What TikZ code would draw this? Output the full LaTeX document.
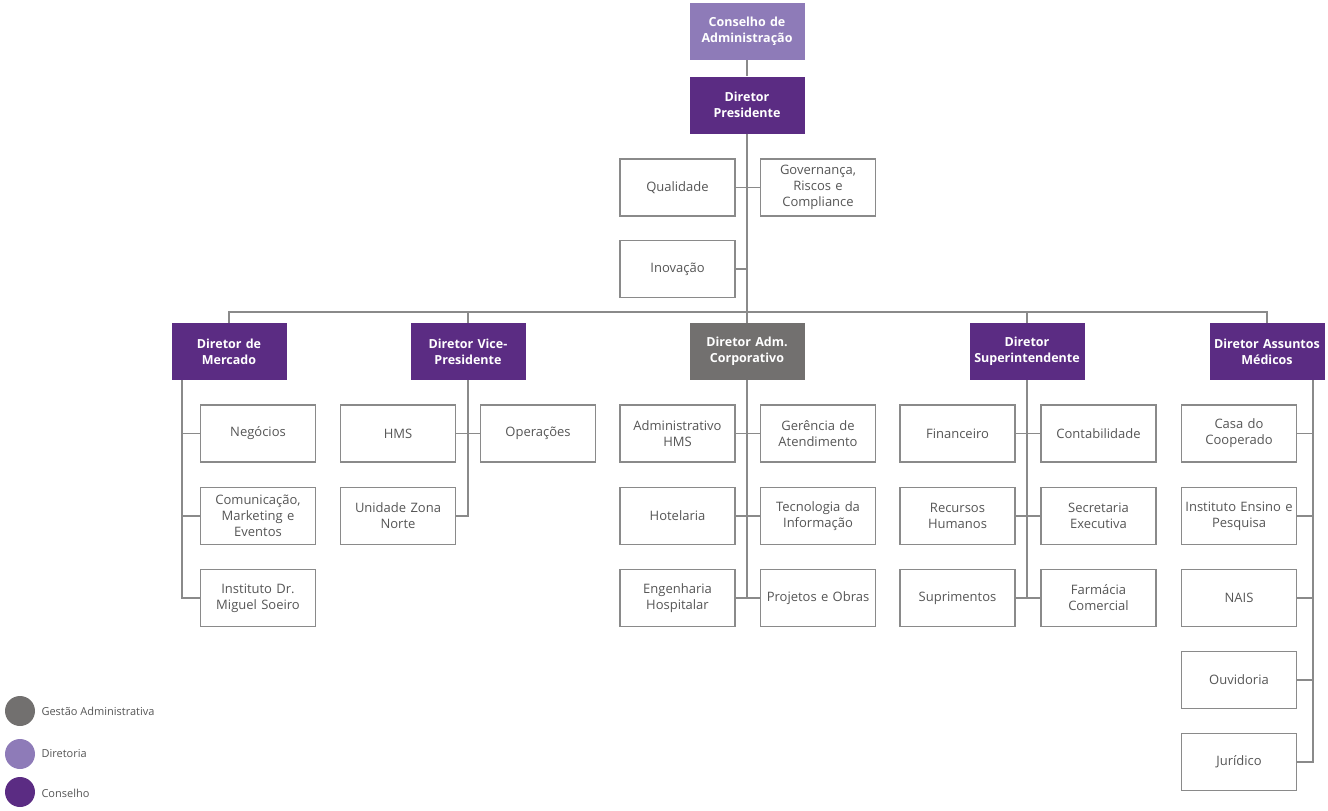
\documentclass[tikz,border=0pt]{standalone}
\usepackage{fontspec}
\setmainfont{Open Sans}
\definecolor{dpurp}{HTML}{5B2C83}
\definecolor{lpurp}{HTML}{8E7BB8}
\definecolor{dgray}{HTML}{72706F}
\definecolor{lin}{HTML}{8A8A8A}
\definecolor{txt}{HTML}{555555}
\begin{document}
\begin{tikzpicture}[x=1pt,y=-1pt,
 box/.style={draw=lin,line width=1.3pt,minimum width=115pt,minimum height=57pt,inner sep=1pt,text width=112pt,align=center,text=txt,font=\fontsize{13}{16}\selectfont},
 dir/.style={fill=#1,minimum width=115pt,minimum height=57pt,inner sep=1pt,text width=112pt,align=center,text=white,font=\bfseries\fontsize{12.5}{16}\selectfont},
 ln/.style={draw=lin,line width=1.5pt},
 leg/.style={circle,fill=#1,minimum size=30pt,inner sep=0pt},
 legt/.style={anchor=west,text=txt,font=\fontsize{11}{13}\selectfont}]
\useasboundingbox (0,0) rectangle (1328,811);
% top
\node[dir=lpurp] (cons) at (747,31) {Conselho de\\Administração};
\node[dir=dpurp] (pres) at (747,105) {Diretor\\Presidente};
\node[box] (qual) at (677.5,187.5) {Qualidade};
\node[box] (gov) at (818,187.5) {Governança,\\Riscos e\\Compliance};
\node[box] (inov) at (677.5,269) {Inovação};
\coordinate (hb) at (747,312);
\draw[ln] (cons) -- (pres);
\draw[ln] (pres) -- (hb);
\draw[ln] (qual.east) -- (gov.west);
\draw[ln] (inov.east) -- (inov.east -| hb);
% directors
\node[dir=dpurp] (merc) at (229,351.5) {Diretor de\\Mercado};
\node[dir=dpurp] (vice) at (468,351.5) {Diretor Vice-\\Presidente};
\node[dir=dgray] (adm) at (747,351.5) {Diretor Adm.\\Corporativo};
\node[dir=dpurp] (sup) at (1027,351.5) {Diretor\\Superintendente};
\node[dir=dpurp] (med) at (1267,351.5) {Diretor Assuntos\\Médicos};
\draw[ln] (merc.north) |- (hb) -| (med.north);
\draw[ln] (vice.north) -- (vice.north |- hb);
\draw[ln] (hb) -- (adm.north);
\draw[ln] (sup.north) -- (sup.north |- hb);
% Mercado
\node[box] (neg) at (258,433.5) {Negócios};
\node[box] (com) at (258,516) {Comunicação,\\Marketing e\\Eventos};
\node[box] (inst) at (258,598) {Instituto Dr.\\Miguel Soeiro};
\coordinate (mv) at (182,380);
\draw[ln] (mv) |- (inst.west);
\draw[ln] (neg.west) -- (neg.west -| mv);
\draw[ln] (com.west) -- (com.west -| mv);
% Vice
\node[box] (hms) at (398,433.5) {HMS};
\node[box] (oper) at (538,433.5) {Operações};
\node[box] (uzn) at (398,516) {Unidade Zona\\Norte};
\draw[ln] (vice.south) |- (uzn.east);
\draw[ln] (hms.east) -- (oper.west);
% Adm
\node[box] (ahms) at (677.5,433.5) {Administrativo\\HMS};
\node[box] (ger) at (818,433.5) {Gerência de\\Atendimento};
\node[box] (hot) at (677.5,516) {Hotelaria};
\node[box] (ti) at (818,516) {Tecnologia da\\Informação};
\node[box] (eng) at (677.5,598) {Engenharia\\Hospitalar};
\node[box] (proj) at (818,598) {Projetos e Obras};
\draw[ln] (adm.south) -- (adm.south |- eng.east);
\draw[ln] (ahms.east) -- (ger.west);
\draw[ln] (hot.east) -- (ti.west);
\draw[ln] (eng.east) -- (proj.west);
% Super
\node[box] (fin) at (957.5,433.5) {Financeiro};
\node[box] (cont) at (1098.5,433.5) {Contabilidade};
\node[box] (rh) at (957.5,516) {Recursos\\Humanos};
\node[box] (sec) at (1098.5,516) {Secretaria\\Executiva};
\node[box] (supr) at (957.5,598) {Suprimentos};
\node[box] (farm) at (1098.5,598) {Farmácia\\Comercial};
\draw[ln] (sup.south) -- (sup.south |- supr.east);
\draw[ln] (fin.east) -- (cont.west);
\draw[ln] (rh.east) -- (sec.west);
\draw[ln] (supr.east) -- (farm.west);
% Medicos
\node[box] (casa) at (1239,433.5) {Casa do\\Cooperado};
\node[box] (ens) at (1239,516) {Instituto Ensino e\\Pesquisa};
\node[box] (nais) at (1239,598) {NAIS};
\node[box] (ouv) at (1239,680) {Ouvidoria};
\node[box] (jur) at (1239,762) {Jurídico};
\coordinate (dv) at (1313,380);
\draw[ln] (dv) |- (jur.east);
\foreach \n in {casa,ens,nais,ouv} \draw[ln] (\n.east) -- (\n.east -| dv);
% legend
\node[leg=dgray] (l1) at (20,711) {};
\node[leg=lpurp] (l2) at (20,754) {};
\node[leg=dpurp] (l3) at (20,792) {};
\node[legt] (t1) at (38,711) {Gestão Administrativa};
\node[legt] (t2) at (38,754) {Diretoria};
\node[legt] (t3) at (38,793) {Conselho};
\end{tikzpicture}
\end{document}
